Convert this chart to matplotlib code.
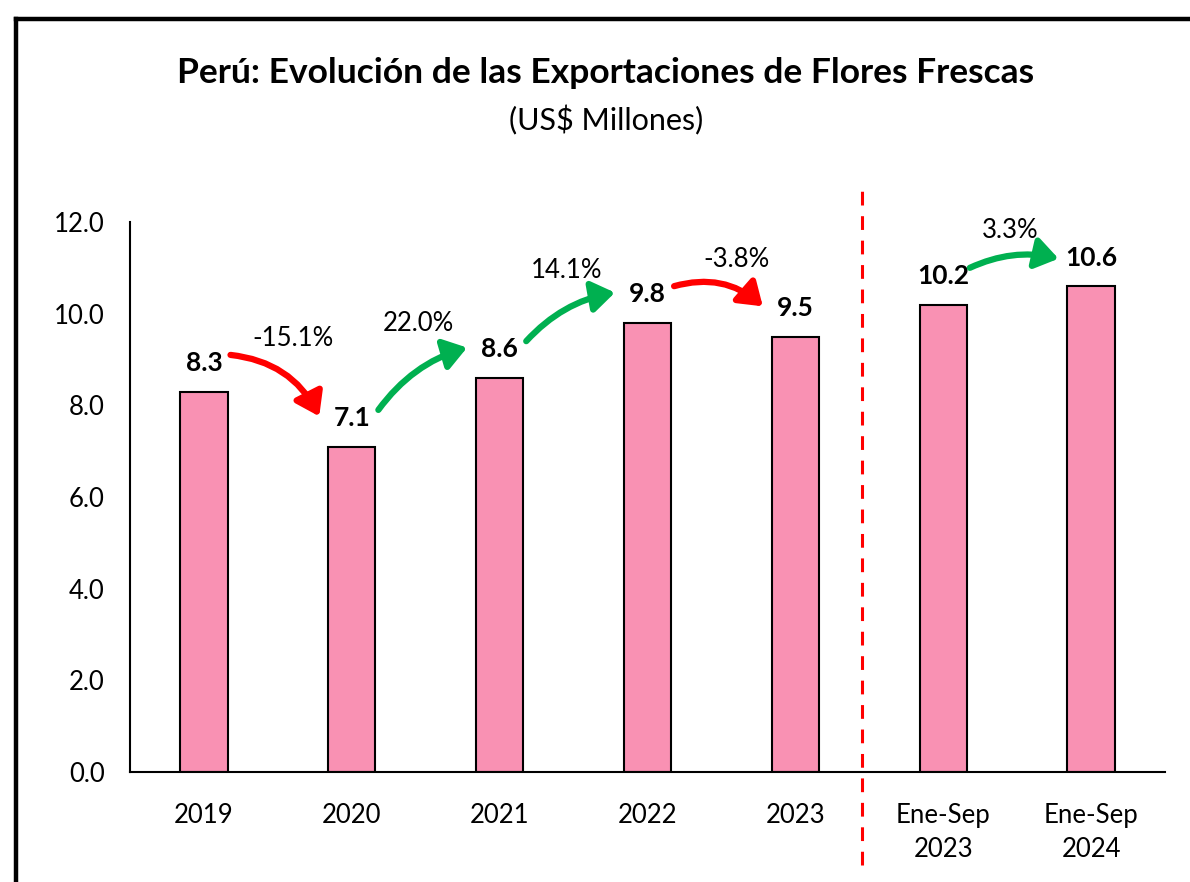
import numpy as np
import matplotlib.pyplot as plt
from matplotlib.patches import FancyArrowPatch
from matplotlib.lines import Line2D

plt.rcParams['font.family'] = ['Lato', 'DejaVu Sans']

CATEGORIES = ["2019", "2020", "2021", "2022", "2023", "Ene-Sep\n2023", "Ene-Sep\n2024"]
VALUES = [8.3, 7.1, 8.6, 9.8, 9.5, 10.2, 10.6]
VALUE_LABELS = ["8.3", "7.1", "8.6", "9.8", "9.5", "10.2", "10.6"]
# variation between consecutive bars: (from index, label)
CHANGES = [(0, "-15.1%"), (1, "22.0%"), (2, "14.1%"), (3, "-3.8%"), (5, "3.3%")]
LABEL_LIFT = [1.15, 1.18, 1.15, 1.38, 1.22]

BAR_COLOR = "#F991B3"
RED = "#FF0000"
GREEN = "#00B050"

fig = plt.figure(figsize=(11.9, 8.82), dpi=100)
ax = fig.add_axes([0.1092, 0.1247, 0.8698, 0.6236])

x = np.arange(len(CATEGORIES))
ax.bar(x, VALUES, width=0.32, color=BAR_COLOR, edgecolor="black", linewidth=1.5, zorder=2)

ax.set_xlim(-0.5, len(CATEGORIES) - 0.5)
ax.set_ylim(0, 12)
ax.set_yticks(np.arange(0, 12.1, 2))
ax.set_yticklabels(["{:.1f}".format(t) for t in np.arange(0, 12.1, 2)])
ax.set_xticks(x)
ax.set_xticklabels(CATEGORIES, linespacing=1.45)
ax.tick_params(axis="both", length=0, labelsize=18.5)
ax.tick_params(axis="y", pad=18)
ax.tick_params(axis="x", pad=22)
for s in ["top", "right"]:
    ax.spines[s].set_visible(False)
for s in ["left", "bottom"]:
    ax.spines[s].set_linewidth(1.5)

for xi, v, lab in zip(x, VALUES, VALUE_LABELS):
    ax.text(xi, v + 0.62, lab, ha="center", va="center", fontsize=19, fontweight="bold")

for (i, lab), lift in zip(CHANGES, LABEL_LIFT):
    v0, v1 = VALUES[i], VALUES[i + 1]
    up = v1 > v0
    start = (i + 0.18, v0 + 0.8)
    end = (i + 0.78, v1 + (0.6 if i == 5 else 0.66))
    color = GREEN if up else RED
    rad = -0.17 if up else -0.27
    arr = FancyArrowPatch(start, end, connectionstyle="arc3,rad={}".format(rad),
                          arrowstyle="-|>,head_length=0.8,head_width=0.55",
                          mutation_scale=17, color=color, linewidth=4.5, zorder=3,
                          shrinkA=0, shrinkB=0)
    ax.add_patch(arr)
    top = max(v0, v1)
    lx = i + 0.45 if up else i + 0.6
    ax.text(lx, top + lift, lab, ha="center", va="center", fontsize=18.5)

# separator between annual and partial year data
ax.plot([4.45, 4.45], [-2.03, 12.85], color=RED, linewidth=2.2, linestyle=(0, (4.5, 3.5)),
        clip_on=False, zorder=1)

fig.text(0.509, 0.917, "Perú: Evolución de las Exportaciones de Flores Frescas",
         ha="center", va="center", fontsize=25.5, fontweight="bold")
fig.text(0.509, 0.864, "(US$ Millones)", ha="center", va="center", fontsize=22)

# outer frame (top and left edge)
fig.add_artist(Line2D([0.0134, 1.0], [0.9785, 0.9785], color="black", linewidth=3.2))
fig.add_artist(Line2D([0.0134, 0.0134], [0.0, 0.9785], color="black", linewidth=3.2))

fig.savefig("out.png", dpi=100)
